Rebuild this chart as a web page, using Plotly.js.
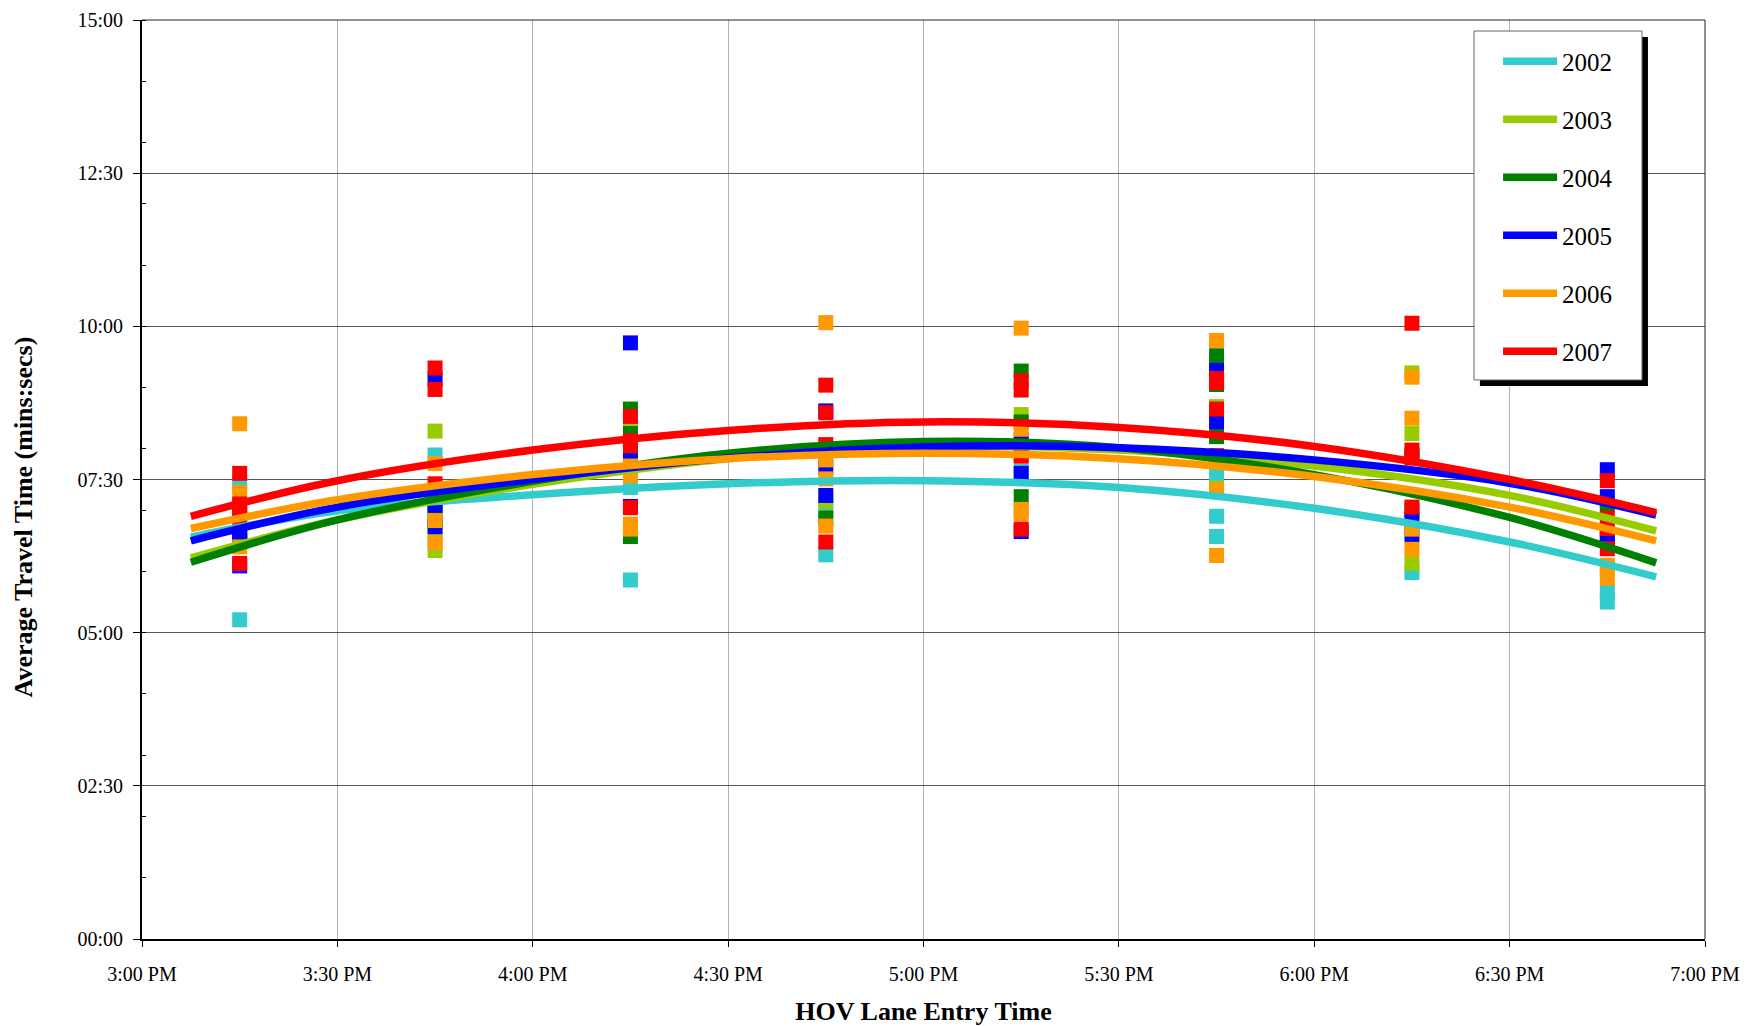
<!DOCTYPE html>
<html>
<head>
<meta charset="utf-8">
<script src="https://cdn.plot.ly/plotly-3.0.1.min.js"></script>
<style>
html,body{margin:0;padding:0;background:#ffffff;}
#chart{width:1747px;height:1026px;}
</style>
</head>
<body>
<div id="chart"></div>
<script>
// ---------- DATA (values in minutes) ----------
const years = ['2002', '2003', '2004', '2005', '2006', '2007'];

// half-hour bins where the observations are plotted
const slotTimes = ['15:15', '15:45', '16:15', '16:45', '17:15', '17:45', '18:15', '18:45'];

// observed average travel times per bin (minutes)
const travel2002 = [[7.44, 5.21], [7.90, 7.05], [7.37, 5.86], [7.02, 6.27], [8.08, 7.63], [7.57, 6.90, 6.57], [5.98], [5.67, 5.50]];
const travel2003 = [[7.05, 6.62], [8.29, 6.60, 6.34], [8.38, 7.95], [7.14, 8.00], [8.56, 7.90], [8.69, 7.36], [9.24, 8.25, 6.13], [7.15, 6.05]];
const travel2004 = [[6.95, 6.55], [7.10, 6.85], [8.65, 8.25, 6.57], [6.87, 8.00], [9.27, 8.44, 7.22], [9.52, 9.05, 8.20], [7.00, 7.90], [7.10, 6.55]];
const travel2005 = [[6.60, 6.51, 6.09], [9.14, 7.08, 6.73], [9.73, 7.82, 7.06], [8.62, 7.70, 7.24], [8.15, 7.60, 6.65], [9.28, 8.44], [6.84, 6.60], [7.66, 7.22, 6.52]];
const travel2006 = [[8.41, 7.29, 6.40], [7.76, 6.83, 6.47], [7.72, 7.56, 6.77, 6.69], [10.06, 7.82, 7.51, 6.74], [9.97, 8.32, 7.01, 6.94], [9.77, 7.33, 6.26], [9.17, 8.50, 6.69, 6.36], [6.10, 5.89]];
const travel2007 = [[7.60, 7.10, 6.86, 6.13], [9.32, 8.97, 7.43], [8.53, 8.13, 8.05, 7.04], [9.04, 8.59, 8.07, 6.48], [9.11, 8.96, 7.88, 6.69], [9.15, 9.08, 8.65, 7.89], [10.05, 7.98, 7.85, 7.05], [7.48, 6.87, 6.70, 6.37]];

// trend curves at these entry times (minutes)
const trendTimes = ['15:07:30', '15:30', '16:00', '16:30', '17:00', '17:30', '18:00', '18:30', '18:52:30'];
const trend2002 = [6.56, 6.99, 7.25, 7.43, 7.48, 7.37, 7.03, 6.48, 5.91];
const trend2003 = [6.22, 6.84, 7.42, 7.84, 8.04, 7.98, 7.72, 7.24, 6.66];
const trend2004 = [6.15, 6.84, 7.47, 7.93, 8.12, 8.02, 7.58, 6.88, 6.14];
const trend2005 = [6.50, 7.05, 7.50, 7.85, 8.03, 8.02, 7.82, 7.44, 6.92];
const trend2006 = [6.70, 7.17, 7.58, 7.84, 7.93, 7.84, 7.55, 7.05, 6.50];
const trend2007 = [6.90, 7.48, 7.98, 8.30, 8.44, 8.35, 8.04, 7.50, 6.96];

// axis tick labels
const yTickVals = [0, 2.5, 5, 7.5, 10, 12.5, 15];
const yTickText = ['00:00', '02:30', '05:00', '07:30', '10:00', '12:30', '15:00'];

// ---------- STYLE ----------
const yearColors = ['#33CCCC', '#99CC00', '#008000', '#0000FF', '#FF9900', '#FF0000'];
const FONT = "'Liberation Serif', 'Times New Roman', Times, serif";
const DAY = '2000-01-01 ';

const travelByYear = [travel2002, travel2003, travel2004, travel2005, travel2006, travel2007];
const trendByYear = [trend2002, trend2003, trend2004, trend2005, trend2006, trend2007];

function flatten(perSlot) {
  const xs = [], ys = [];
  perSlot.forEach((vals, i) => {
    vals.forEach(v => { xs.push(DAY + slotTimes[i]); ys.push(v); });
  });
  return { xs, ys };
}

const traces = [];
years.forEach((yr, k) => {
  const f = flatten(travelByYear[k]);
  traces.push({
    type: 'scatter', mode: 'markers', name: yr + ' data',
    x: f.xs, y: f.ys, showlegend: false, hoverinfo: 'skip',
    marker: { symbol: 'square', size: 15, color: yearColors[k], line: { width: 0 } }
  });
});
years.forEach((yr, k) => {
  traces.push({
    type: 'scatter', mode: 'lines', name: yr, legendgroup: 'g' + yr,
    x: trendTimes.map(t => DAY + t), y: trendByYear[k],
    line: { color: yearColors[k], width: 7.5, shape: 'spline', smoothing: 1 },
    hoverinfo: 'skip'
  });
});

const layout = {
  width: 1747, height: 1026,
  margin: { l: 142, r: 42, t: 20, b: 87 },
  paper_bgcolor: '#ffffff', plot_bgcolor: '#ffffff',
  font: { family: FONT, color: '#000000', size: 20 },
  showlegend: true,
  legend: {
    x: 0.8676, y: 0.9799, xanchor: 'left', yanchor: 'top',
    bgcolor: 'rgba(0,0,0,0)', borderwidth: 0,
    font: { family: FONT, size: 25, color: '#000000' },
    traceorder: 'grouped', tracegroupgap: 22.5, itemwidth: 54
  },
  xaxis: {
    type: 'date',
    range: [DAY + '15:00', DAY + '19:00'],
    tick0: DAY + '15:00', dtick: 1800000,
    tickformat: '%-I:%M %p',
    ticks: 'outside', ticklen: 6, tickcolor: '#000000', tickwidth: 1,
    ticklabelstandoff: 10,
    showgrid: true, gridcolor: '#b3b3b3', gridwidth: 1,
    showline: true, linecolor: '#000000', linewidth: 2,
    zeroline: false,
    tickfont: { family: FONT, size: 20, color: '#000000' },
    title: { text: '<b>HOV Lane Entry Time</b>', font: { family: FONT, size: 26, color: '#000000' }, standoff: 18 }
  },
  yaxis: {
    range: [0, 15],
    tickmode: 'array', tickvals: yTickVals, ticktext: yTickText,
    ticks: 'outside', ticklen: 7, tickcolor: '#000000', tickwidth: 1,
    ticklabelstandoff: 6,
    minor: { dtick: 1, tick0: 0, ticks: 'inside', ticklen: 4, tickcolor: '#000000', tickwidth: 1, showgrid: false },
    showgrid: true, gridcolor: '#555555', gridwidth: 1,
    showline: true, linecolor: '#000000', linewidth: 2,
    zeroline: false,
    tickfont: { family: FONT, size: 20, color: '#000000' }
  },
  annotations: [
    { text: '<b>Average Travel Time (mins:secs)</b>', xref: 'paper', yref: 'paper',
      x: -0.0752, y: 0.4592, xanchor: 'center', yanchor: 'middle', textangle: -90,
      showarrow: false, font: { family: FONT, size: 26, color: '#000000' } }
  ],
  shapes: [
    // plot frame top and right
    { type: 'line', xref: 'paper', yref: 'paper', x0: 0, x1: 1, y0: 1, y1: 1, line: { color: '#222222', width: 1 } },
    { type: 'line', xref: 'paper', yref: 'paper', x0: 1, x1: 1, y0: 0, y1: 1, line: { color: '#222222', width: 1 } },
    // legend shadow and box
    { type: 'rect', xref: 'paper', yref: 'paper', layer: 'above', x0: 0.8560, x1: 0.9635, y0: 0.6017, y1: 0.9815, fillcolor: '#000000', line: { width: 0 } },
    { type: 'rect', xref: 'paper', yref: 'paper', layer: 'above', x0: 0.8522, x1: 0.9597, y0: 0.6083, y1: 0.9880, fillcolor: '#ffffff', line: { color: '#666666', width: 1 } }
  ]
};

Plotly.newPlot('chart', traces, layout, { displayModeBar: false, staticPlot: true });
</script>
</body>
</html>
